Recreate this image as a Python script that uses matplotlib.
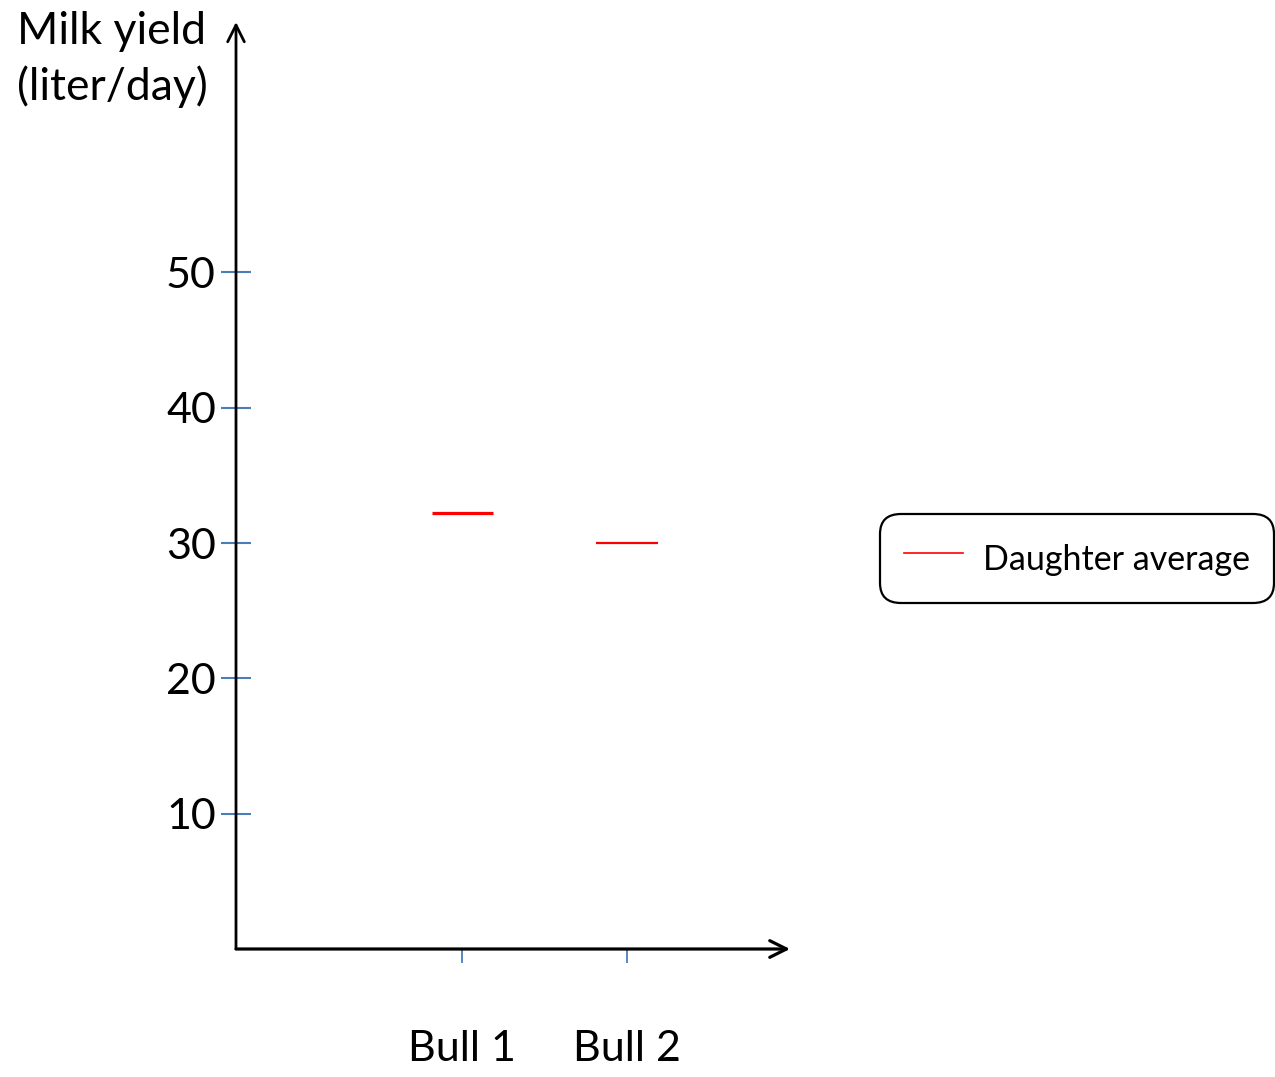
"""Daughter average milk yield per bull"""

import numpy as np
import matplotlib
matplotlib.use("Agg")
import matplotlib.pyplot as plt
from matplotlib.lines import Line2D

plt.rcParams['font.family'] = ['Lato', 'DejaVu Sans']

# Data
bulls = ['Bull 1', 'Bull 2']
daughter_avg = [32.2, 30.0]
y_ticks = [10, 20, 30, 40, 50]

W, H = 1275, 1077
fig = plt.figure(figsize=(W / 100, H / 100), dpi=100)

# axes box placed in pixels: x 236..790, y 22..949
ax = fig.add_axes([236 / W, (H - 949) / H, (790 - 236) / W, (949 - 22) / H])
ax.set_xlim(-0.37, 2.988)
ax.set_ylim(0, 68.5)
for s in ax.spines.values():
    s.set_visible(False)

blue = '#4a7ebb'
ax.set_yticks(y_ticks)
ax.set_yticklabels([str(v) for v in y_ticks])
ax.tick_params(axis='y', direction='inout', length=21, width=1.5, color=blue,
               pad=4, labelsize=31)

xpos = np.arange(1, len(bulls) + 1)
ax.set_xticks(xpos)
ax.set_xticklabels(bulls)
ax.tick_params(axis='x', direction='out', length=10, width=1.3, color=blue,
               pad=48, labelsize=31)

# axis arrows
ax.annotate('', xy=(0, 1), xytext=(0, 0), xycoords='axes fraction',
            arrowprops=dict(arrowstyle='->', lw=2.0, color='black',
                            mutation_scale=30, shrinkA=0, shrinkB=0))
ax.annotate('', xy=(1, 0), xytext=(0, 0), xycoords='axes fraction',
            arrowprops=dict(arrowstyle='->', lw=2.3, color='black',
                            mutation_scale=30, shrinkA=0, shrinkB=0))

# daughter averages
ax.hlines(daughter_avg, xpos - 0.185, xpos + 0.185, colors='red',
          linewidths=[2.3, 1.6])

fig.text(17 / W, 1 - 11 / H, 'Milk yield\n(liter/day)', ha='left', va='top',
         fontsize=32, linespacing=1.38)

handle = Line2D([], [], color='red', lw=1.2)
leg = fig.legend([handle], ['Daughter average'], loc='center',
                 bbox_to_anchor=(1077 / W, 1 - 558.5 / H), fontsize=24.5,
                 frameon=True, fancybox=True, edgecolor='black',
                 handlelength=1.75, handletextpad=0.6, borderpad=0.68,
                 handleheight=1.56, borderaxespad=0)
leg.get_frame().set_linewidth(1.6)
leg.get_frame().set_alpha(None)
leg.get_frame().set_boxstyle('round', pad=0, rounding_size=0.6)

plt.savefig('out.png', dpi=100)
